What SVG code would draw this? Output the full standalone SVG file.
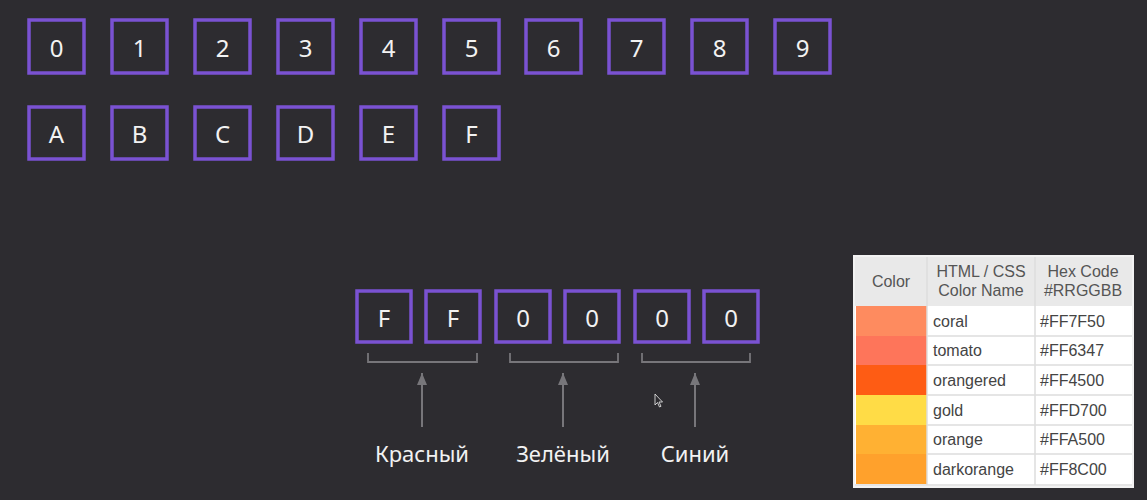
<svg xmlns="http://www.w3.org/2000/svg" width="1147" height="500" viewBox="0 0 1147 500">
<style>
.bg{fill:#2d2c30}
.box rect{fill:#2d2c30;stroke:#7a52d2;stroke-width:3.5}
.box text{font-family:"Noto Sans","Open Sans",sans-serif;font-size:24px;fill:#f2f2f2;text-anchor:middle}
.br{fill:none;stroke:#77767a;stroke-width:1.8}
.ar{stroke:#77767a;stroke-width:2;fill:none}
.lbl{font-family:"Noto Sans","Open Sans",sans-serif;font-size:22px;fill:#f2f2f2;text-anchor:middle}
.th{font-family:"Liberation Sans",Arial,sans-serif;font-size:16px;fill:#555;text-anchor:middle}
.td{font-family:"Liberation Sans",Arial,sans-serif;font-size:16px;fill:#444}
.grid{stroke:#dcdcdc;stroke-width:1.5}
</style>
<defs>
<marker id="ah" viewBox="0 0 12 10" refX="12" refY="5" markerWidth="12" markerHeight="10" markerUnits="userSpaceOnUse" orient="auto">
<path d="M0,0 L12,5 L0,10 Z" fill="#77767a"/>
</marker>
</defs>
<rect class="bg" x="0" y="0" width="1147" height="500"/>

<g id="row-digits">
<g id="d0" class="box"><rect x="29" y="20" width="55" height="53"/><text x="56.5" y="57">0</text></g>
<g id="d1" class="box"><rect x="112" y="20" width="55" height="53"/><text x="139.5" y="57">1</text></g>
<g id="d2" class="box"><rect x="195" y="20" width="55" height="53"/><text x="222.5" y="57">2</text></g>
<g id="d3" class="box"><rect x="278" y="20" width="55" height="53"/><text x="305.5" y="57">3</text></g>
<g id="d4" class="box"><rect x="361" y="20" width="55" height="53"/><text x="388.5" y="57">4</text></g>
<g id="d5" class="box"><rect x="444" y="20" width="55" height="53"/><text x="471.5" y="57">5</text></g>
<g id="d6" class="box"><rect x="526" y="20" width="55" height="53"/><text x="553.5" y="57">6</text></g>
<g id="d7" class="box"><rect x="609" y="20" width="55" height="53"/><text x="636.5" y="57">7</text></g>
<g id="d8" class="box"><rect x="692" y="20" width="55" height="53"/><text x="719.5" y="57">8</text></g>
<g id="d9" class="box"><rect x="775" y="20" width="55" height="53"/><text x="802.5" y="57">9</text></g>
</g>

<g id="row-letters">
<g id="lA" class="box"><rect x="29" y="107" width="55" height="52"/><text x="56.5" y="143">A</text></g>
<g id="lB" class="box"><rect x="112" y="107" width="55" height="52"/><text x="139.5" y="143">B</text></g>
<g id="lC" class="box"><rect x="195" y="107" width="55" height="52"/><text x="222.5" y="143">C</text></g>
<g id="lD" class="box"><rect x="278" y="107" width="55" height="52"/><text x="305.5" y="143">D</text></g>
<g id="lE" class="box"><rect x="361" y="107" width="55" height="52"/><text x="388.5" y="143">E</text></g>
<g id="lF" class="box"><rect x="444" y="107" width="55" height="52"/><text x="471.5" y="143">F</text></g>
</g>

<g id="hex">
<g id="h1" class="box"><rect x="357" y="291" width="54" height="51"/><text x="384" y="327">F</text></g>
<g id="h2" class="box"><rect x="426" y="291" width="54" height="51"/><text x="453" y="327">F</text></g>
<g id="h3" class="box"><rect x="496" y="291" width="54" height="51"/><text x="523" y="327">0</text></g>
<g id="h4" class="box"><rect x="565" y="291" width="54" height="51"/><text x="592" y="327">0</text></g>
<g id="h5" class="box"><rect x="635" y="291" width="54" height="51"/><text x="662" y="327">0</text></g>
<g id="h6" class="box"><rect x="704" y="291" width="54" height="51"/><text x="731" y="327">0</text></g>
</g>

<g id="connectors">
<path class="br" d="M368,353 V362 H477 V353"/>
<path class="br" d="M510,353 V362 H618 V353"/>
<path class="br" d="M642,353 V362 H750 V353"/>
<line class="ar" x1="422" y1="427" x2="422" y2="373" marker-end="url(#ah)"/>
<line class="ar" x1="563" y1="427" x2="563" y2="373" marker-end="url(#ah)"/>
<line class="ar" x1="695" y1="427" x2="695" y2="373" marker-end="url(#ah)"/>
</g>

<g id="labels">
<text class="lbl" x="422" y="462">Красный</text>
<text class="lbl" x="563" y="462">Зелёный</text>
<text class="lbl" x="695" y="462">Синий</text>
</g>

<g id="cursor">
<path d="M655,394 L655,405 L657.5,402.5 L659.5,407 L661,406.3 L659,402 L662.5,402 Z" fill="#2d2c30" stroke="#dddddd" stroke-width="0.9"/>
</g>

<g id="table">
<rect x="854" y="256" width="279" height="231" fill="#ffffff" stroke="#f2f2f2" stroke-width="2"/>
<rect x="855" y="257" width="277" height="49" fill="#e9e9e9"/>
<rect x="856" y="306" width="71" height="30" fill="#fe8b5f"/>
<rect x="856" y="336" width="71" height="29" fill="#fe755a"/>
<rect x="856" y="365" width="71" height="30" fill="#fe5c14"/>
<rect x="856" y="395" width="71" height="30" fill="#ffdc46"/>
<rect x="856" y="425" width="71" height="29" fill="#ffb133"/>
<rect x="856" y="454" width="71" height="30" fill="#ffa12c"/>
<g class="grid">
<line x1="927" y1="257" x2="927" y2="485"/>
<line x1="1035" y1="257" x2="1035" y2="485"/>
<line x1="927" y1="336" x2="1132" y2="336"/>
<line x1="927" y1="365" x2="1132" y2="365"/>
<line x1="927" y1="395" x2="1132" y2="395"/>
<line x1="927" y1="425" x2="1132" y2="425"/>
<line x1="927" y1="454" x2="1132" y2="454"/>
<line x1="855" y1="485" x2="1132" y2="485"/>
</g>
<text class="th" x="891" y="287">Color</text>
<text class="th" x="981" y="277">HTML / CSS</text>
<text class="th" x="981" y="296">Color Name</text>
<text class="th" x="1083" y="277">Hex Code</text>
<text class="th" x="1083" y="296">#RRGGBB</text>
<text class="td" x="933" y="327">coral</text>
<text class="td" x="933" y="356">tomato</text>
<text class="td" x="933" y="386">orangered</text>
<text class="td" x="933" y="416">gold</text>
<text class="td" x="933" y="445">orange</text>
<text class="td" x="933" y="475">darkorange</text>
<text class="td" x="1040" y="327">#FF7F50</text>
<text class="td" x="1040" y="356">#FF6347</text>
<text class="td" x="1040" y="386">#FF4500</text>
<text class="td" x="1040" y="416">#FFD700</text>
<text class="td" x="1040" y="445">#FFA500</text>
<text class="td" x="1040" y="475">#FF8C00</text>
</g>
</svg>
